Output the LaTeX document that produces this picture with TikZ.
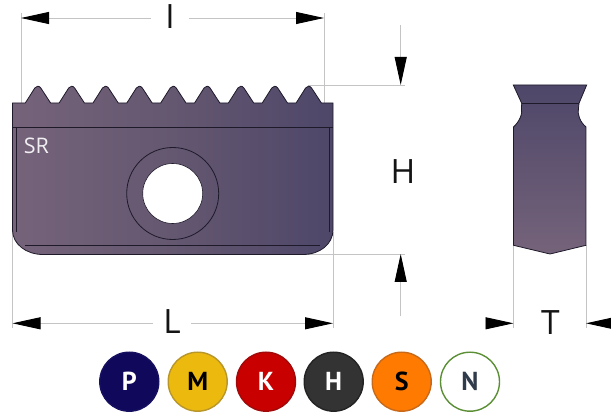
\documentclass[tikz,border=0pt]{standalone}
\usepackage{fontspec}
\setmainfont{Open Sans}
\newfontfamily\badgefont{PT Sans}[BoldFont={PT Sans Bold}]
\usetikzlibrary{arrows.meta,calc}
\definecolor{gL}{HTML}{75637A}
\definecolor{gM}{HTML}{645770}
\definecolor{gR}{HTML}{4E4769}
\definecolor{edge}{HTML}{1E1A2A}
\definecolor{dimgray}{HTML}{C4C4C4}
\tikzset{
  x=1pt,y=-1pt,
  extline/.style={draw=dimgray,line width=0.9pt},
  dimarrow/.style={draw=dimgray,line width=0.9pt,-{Triangle[length=28pt,width=12pt,black]}},
  dimlabel/.style={font=\fontsize{33.5}{33.5}\selectfont,text=black!92,inner sep=0pt},
  outline/.style={draw=edge,line width=0.8pt},
  inner line/.style={draw=edge,line width=0.8pt},
  badge/.style={circle,minimum size=59pt,inner sep=0pt,line width=1.4pt,font=\badgefont\bfseries\fontsize{26}{26}\selectfont},
}
\begin{document}
\begin{tikzpicture}
\useasboundingbox (0,0) rectangle (611,414);
% extension lines
\coordinate (iL) at (21,13);
\coordinate (iLb) at (21,103);
\coordinate (iR) at (324,13);
\coordinate (iRb) at (324,103);
\coordinate (lL) at (12.5,328);
\coordinate (lLb) at (12.5,232);
\coordinate (lR) at (333,328);
\coordinate (lRb) at (333,232);
\coordinate (hTa) at (308,85);
\coordinate (hTb) at (405,85);
\coordinate (hBa) at (308,254);
\coordinate (hBb) at (405,254);
\coordinate (tLa) at (513.5,245);
\coordinate (tLb) at (513.5,328);
\coordinate (tRa) at (586,245);
\coordinate (tRb) at (586,328);
\foreach \a/\b in {iL/iLb,iR/iRb,lL/lLb,lR/lRb,hTa/hTb,hBa/hBb,tLa/tLb,tRa/tRb}
  \draw[extline] (\a) -- (\b);
% main view
\path[outline,left color=gL,right color=gR,middle color=gM]
  (12.5,103) -- (25.3,103)
  \foreach \i in {0,...,8}{
    -- ({25.3+33.85*\i},103) -- ({34.8+33.85*\i},88)
    .. controls ({36.5+33.85*\i},85.6) and ({39+33.85*\i},85.6) .. ({40.8+33.85*\i},88)
    -- ({50.6+33.85*\i},103)
  }
  -- (333,103) -- (333,230)
  .. controls (333,244) and (320,254.5) .. (303,254.5)
  -- (43,254.5)
  .. controls (26,254.5) and (12.5,244) .. (12.5,230) -- cycle;
\draw[inner line] (12.5,127.5) -- (333,127.5);
\draw[inner line] (16.5,127.5) -- (16.5,232);
\draw[inner line] (329.5,127.5) -- (329.5,232);
\draw[inner line] (25,245) -- (320,245);
\node[circle,draw=edge,line width=0.8pt,minimum size=92pt,inner sep=0pt] (collar) at (172.7,193.5) {};
\node[circle,draw=edge,fill=white,line width=0.6pt,minimum size=60pt,inner sep=0pt] (hole) at (172.7,193.5) {};
\node[text=white!90!gL,font=\fontsize{21.5}{21.5}\selectfont,inner sep=0pt] (sr) at (36.3,146) {SR};
% side view
\path[outline,top color=gR,bottom color=gL]
  (513.3,85) -- (586.7,85) -- (579,103.3) -- (578.5,108)
  .. controls (577,114) and (580,122) .. (586,127)
  -- (586,245.3) -- (550,254) -- (513.5,245.3) -- (513.5,127)
  .. controls (519,122) and (523,114) .. (521.5,108) -- (521.7,103.3) -- cycle;
\draw[inner line] (521.7,103.3) -- (579,103.3);
% dimension labels
\node[dimlabel] (I) at (170,17) {I};
\node[dimlabel] (H) at (403,172) {H};
\node[dimlabel] (L) at (172,322) {L};
\node[dimlabel] (T) at (550.5,323) {T};
% dimension arrows
\coordinate (iA) at (151,18); \coordinate (iAt) at (21,18);
\coordinate (iB) at (189,18); \coordinate (iBt) at (324,18);
\coordinate (lA) at (153,323.3); \coordinate (lAt) at (12.5,323.3);
\coordinate (lB) at (191,323.3); \coordinate (lBt) at (333,323.3);
\coordinate (hA) at (400.7,25); \coordinate (hAt) at (400.7,85);
\coordinate (hB) at (400.7,316.5); \coordinate (hBt) at (400.7,254);
\coordinate (tA) at (485.7,323.3); \coordinate (tAt) at (513.5,323.3);
\coordinate (tB) at (611,323.3); \coordinate (tBt) at (586,323.3);
\foreach \a/\b in {iA/iAt,iB/iBt,lA/lAt,lB/lBt,hA/hAt,hB/hBt,tA/tAt,tB/tBt}
  \draw[dimarrow] (\a) -- (\b);
% material badges
\node[badge,fill={rgb,255:red,16;green,8;blue,90},draw={rgb,255:red,22;green,16;blue,96},text=white] (P) at (129.3,381.7) {P};
\node[badge,fill={rgb,255:red,236;green,185;blue,15},draw={rgb,255:red,184;green,150;blue,42},text=black] (M) at (197.7,381.7) {M};
\node[badge,fill={rgb,255:red,200;green,0;blue,0},draw={rgb,255:red,160;green,10;blue,10},text=white] (K) at (266,381.7) {K};
\node[badge,fill={rgb,255:red,51;green,51;blue,51},draw={rgb,255:red,35;green,35;blue,35},text=white] (Hm) at (333.7,381.7) {H};
\node[badge,fill={rgb,255:red,255;green,122;blue,0},draw={rgb,255:red,200;green,105;blue,26},text=black] (S) at (401.7,381.7) {S};
\node[badge,fill=white,draw={rgb,255:red,91;green,143;blue,53},text={rgb,255:red,47;green,58;blue,74}] (N) at (470,381.7) {N};
\end{tikzpicture}
\end{document}
